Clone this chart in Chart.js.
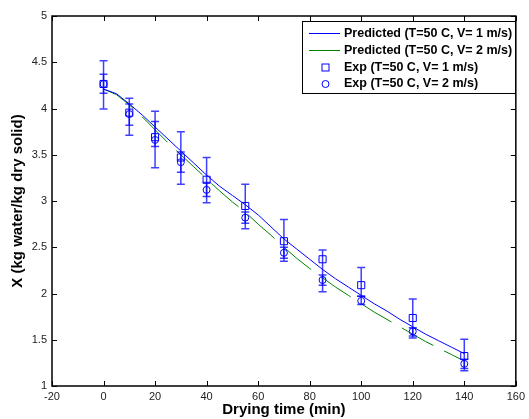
<!DOCTYPE html>
<html>
<head>
<meta charset="utf-8">
<script src="https://cdn.jsdelivr.net/npm/chart.js@4/dist/chart.umd.min.js"></script>
<style>
html, body { margin: 0; padding: 0; background: #fff; }
</style>
</head>
<body>
<canvas id="canvas" width="529" height="419"></canvas>
<script>
//Data
var modelTime = [0, 5, 10, 15, 20, 25, 30, 35, 40, 45, 50, 55, 60, 65, 70, 75, 80, 85, 90, 95, 100, 105, 110, 115, 120, 125, 130, 135, 140];
var modelV1 = [4.21, 4.16, 4.05, 3.93, 3.80, 3.67, 3.54, 3.41, 3.28, 3.16, 3.06, 2.96, 2.85, 2.72, 2.59, 2.48, 2.37, 2.26, 2.16, 2.07, 1.98, 1.89, 1.81, 1.72, 1.64, 1.56, 1.49, 1.42, 1.35];
var modelV2 = [4.21, 4.15, 4.04, 3.91, 3.77, 3.63, 3.50, 3.37, 3.24, 3.11, 2.99, 2.88, 2.75, 2.63, 2.50, 2.38, 2.27, 2.17, 2.07, 1.98, 1.89, 1.80, 1.72, 1.64, 1.56, 1.48, 1.41, 1.34, 1.27];

var expTime = [0, 10, 20, 30, 40, 55, 70, 85, 100, 120, 140];
var expV1 = [4.265, 3.955, 3.69, 3.47, 3.23, 2.946, 2.565, 2.37, 2.09, 1.735, 1.324];
var expV1High = [4.517, 4.11, 3.97, 3.75, 3.47, 3.18, 2.80, 2.47, 2.28, 1.94, 1.505];
var expV1Low = [3.995, 3.71, 3.36, 3.18, 2.98, 2.70, 2.35, 2.02, 1.97, 1.52, 1.165];
var expV2 = [4.265, 3.94, 3.66, 3.42, 3.12, 2.82, 2.44, 2.146, 1.92, 1.59, 1.24];
var expV2High = [4.37, 4.05, 3.86, 3.53, 3.20, 2.88, 2.50, 2.20, 1.97, 1.63, 1.29];
var expV2Low = [4.165, 3.82, 3.59, 3.31, 3.05, 2.76, 2.38, 2.09, 1.88, 1.54, 1.19];

var seriesLabels = ['Predicted (T=50 C, V= 1 m/s)', 'Predicted (T=50 C, V= 2 m/s)', 'Exp (T=50 C, V= 1 m/s)', 'Exp (T=50 C, V= 2 m/s)'];
var xTitle = 'Drying time (min)';
var yTitle = 'X (kg water/kg dry solid)';

function toPoints(xs, ys) {
    var pts = [];
    for (var i = 0; i < xs.length; i++) {
        pts.push({x: xs[i], y: ys[i]});
    }
    return pts;
}

var BLUE = '#0000ff';
var GREEN = '#008000';
var FONT = '"Liberation Sans", Arial, sans-serif';

//error bars, frame with inward ticks, y title and legend
var matlabPlugin = {
    id: 'matlab',
    afterDatasetsDraw: function (chart) {
        var ctx = chart.ctx;
        var xs = chart.scales.x, ys = chart.scales.y;
        var bars = [[expV1Low, expV1High], [expV2Low, expV2High]];
        ctx.save();
        ctx.strokeStyle = 'rgba(0,0,255,0.75)';
        ctx.lineWidth = 1.5;
        for (var b = 0; b < bars.length; b++) {
            for (var i = 0; i < expTime.length; i++) {
                var px = xs.getPixelForValue(expTime[i]);
                var lo = ys.getPixelForValue(bars[b][0][i]);
                var hi = ys.getPixelForValue(bars[b][1][i]);
                ctx.beginPath();
                ctx.moveTo(px, lo); ctx.lineTo(px, hi);
                ctx.moveTo(px - 4, lo); ctx.lineTo(px + 4, lo);
                ctx.moveTo(px - 4, hi); ctx.lineTo(px + 4, hi);
                ctx.stroke();
            }
        }
        ctx.restore();
    },
    afterDraw: function (chart) {
        var ctx = chart.ctx;
        var a = chart.chartArea;
        var xs = chart.scales.x, ys = chart.scales.y;
        ctx.save();
        ctx.strokeStyle = '#000';
        ctx.lineWidth = 1.5;
        ctx.strokeRect(a.left, a.top, a.right - a.left, a.bottom - a.top);
        ctx.lineWidth = 1;
        ctx.beginPath();
        xs.ticks.forEach(function (t) {
            var px = Math.round(xs.getPixelForValue(t.value)) + 0.5;
            ctx.moveTo(px, a.bottom); ctx.lineTo(px, a.bottom - 5);
            ctx.moveTo(px, a.top); ctx.lineTo(px, a.top + 5);
        });
        ys.ticks.forEach(function (t) {
            var py = Math.round(ys.getPixelForValue(t.value)) + 0.5;
            ctx.moveTo(a.left, py); ctx.lineTo(a.left + 5, py);
            ctx.moveTo(a.right, py); ctx.lineTo(a.right - 5, py);
        });
        ctx.stroke();

        //y title
        ctx.save();
        ctx.translate(18, (a.top + a.bottom) / 2);
        ctx.rotate(-Math.PI / 2);
        ctx.fillStyle = '#000';
        ctx.font = 'bold 15px ' + FONT;
        ctx.textAlign = 'center';
        ctx.textBaseline = 'middle';
        ctx.fillText(yTitle, 0, 0);
        ctx.restore();

        //legend
        var lx = 302.5, ly = 21.5, lw = 213, lh = 72;
        ctx.fillStyle = '#fff';
        ctx.fillRect(lx, ly, lw, lh);
        ctx.strokeStyle = '#000';
        ctx.lineWidth = 1;
        ctx.strokeRect(lx, ly, lw, lh);
        ctx.font = 'bold 12.5px ' + FONT;
        ctx.textBaseline = 'middle';
        ctx.textAlign = 'left';
        var rows = [33.5, 50.5, 67.5, 84];
        for (var i = 0; i < 4; i++) {
            var yy = rows[i];
            ctx.lineWidth = 1;
            if (i == 0 || i == 1) {
                ctx.strokeStyle = i == 0 ? BLUE : GREEN;
                ctx.beginPath();
                ctx.moveTo(309, yy); ctx.lineTo(340, yy);
                ctx.stroke();
            } else if (i == 2) {
                ctx.strokeStyle = BLUE;
                ctx.strokeRect(322, yy - 3.5, 7, 7);
            } else {
                ctx.strokeStyle = BLUE;
                ctx.beginPath();
                ctx.arc(325.5, yy, 3.5, 0, Math.PI * 2);
                ctx.stroke();
            }
            ctx.fillStyle = '#000';
            ctx.fillText(chart.data.datasets[i].label, 344, yy);
        }
        ctx.restore();
    }
};

var config = {
    type: 'scatter',
    data: {
        datasets: [
            {
                label: seriesLabels[0],
                data: toPoints(modelTime, modelV1),
                showLine: true,
                borderColor: BLUE,
                borderWidth: 1,
                pointRadius: 0,
                order: 1
            },
            {
                label: seriesLabels[1],
                data: toPoints(modelTime, modelV2),
                showLine: true,
                borderColor: GREEN,
                borderWidth: 1,
                borderDash: [36, 12],
                pointRadius: 0,
                order: 2
            },
            {
                label: seriesLabels[2],
                data: toPoints(expTime, expV1),
                showLine: false,
                pointStyle: 'rect',
                pointRadius: 5,
                pointBorderWidth: 1,
                pointBorderColor: BLUE,
                pointBackgroundColor: 'rgba(0,0,0,0)',
                order: 0
            },
            {
                label: seriesLabels[3],
                data: toPoints(expTime, expV2),
                showLine: false,
                pointStyle: 'circle',
                pointRadius: 3.5,
                pointBorderWidth: 1,
                pointBorderColor: BLUE,
                pointBackgroundColor: 'rgba(0,0,0,0)',
                order: 0
            }
        ]
    },
    options: {
        responsive: false,
        animation: false,
        devicePixelRatio: 1,
        layout: { padding: { top: 16, right: 10, left: 0, bottom: 0 } },
        plugins: {
            legend: { display: false },
            tooltip: { enabled: false }
        },
        scales: {
            x: {
                type: 'linear',
                min: -20,
                max: 160,
                grid: { display: false, drawTicks: false },
                border: { display: false },
                ticks: { stepSize: 20, color: '#222', padding: 4, font: { size: 11, family: FONT } },
                title: { display: true, text: xTitle, color: '#000', padding: { top: 0, bottom: 0 }, font: { size: 15, weight: 'bold', family: FONT } },
                afterFit: function (scale) { scale.height = 33; }
            },
            y: {
                type: 'linear',
                min: 1,
                max: 5,
                grid: { display: false, drawTicks: false },
                border: { display: false },
                ticks: {
                    stepSize: 0.5, color: '#222', padding: 5, font: { size: 11, family: FONT },
                    callback: function (value) { return String(Math.round(value * 10) / 10); }
                },
                afterFit: function (scale) { scale.width = 52; }
            }
        }
    },
    plugins: [matlabPlugin]
};

window.onload = function () {
    var ctx = document.getElementById('canvas').getContext('2d');
    window.myChart = new Chart(ctx, config);
};
</script>
</body>
</html>
